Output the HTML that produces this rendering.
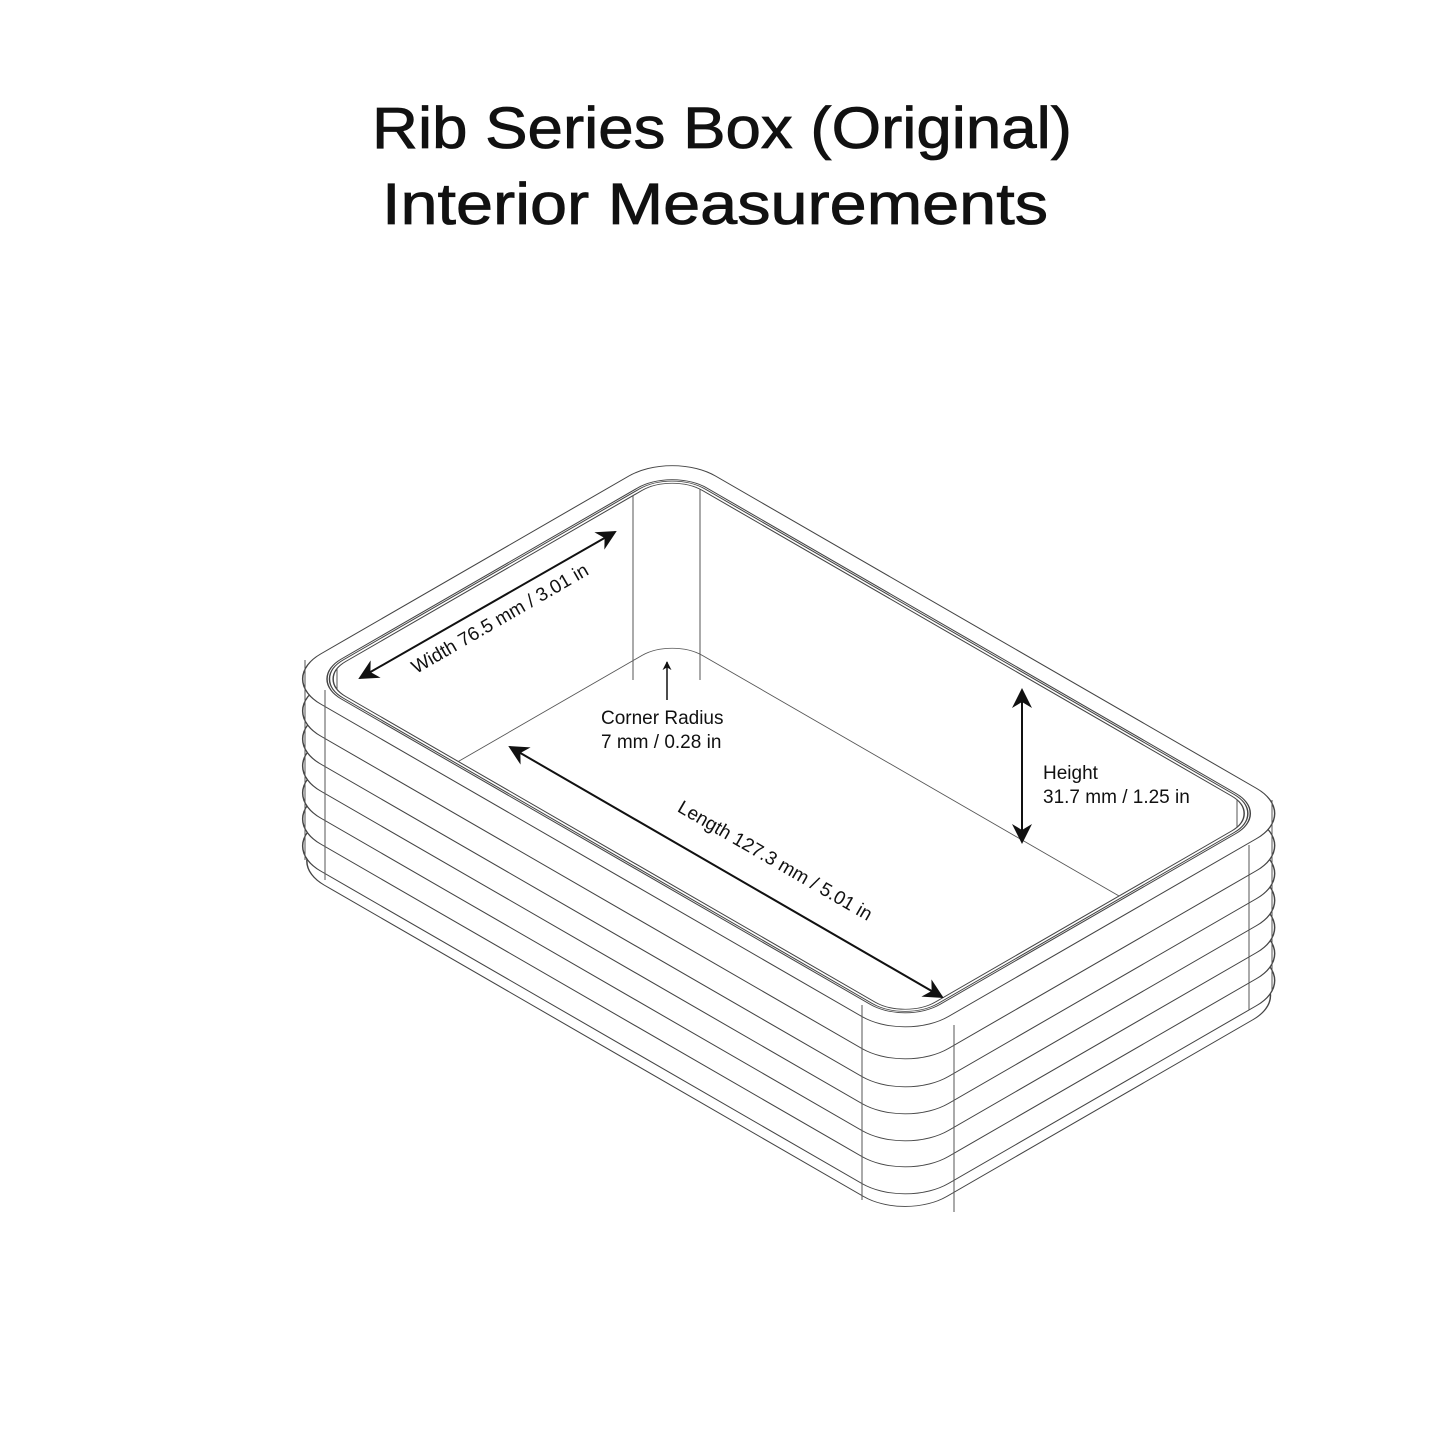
<!DOCTYPE html>
<html><head><meta charset="utf-8"><style>
html,body{margin:0;padding:0;background:#fff}
svg{display:block}
</style></head><body>
<svg width="1445" height="1445" viewBox="0 0 1445 1445" xmlns="http://www.w3.org/2000/svg">
<defs>
<marker id="ah" viewBox="0 0 10 10" refX="9" refY="5" markerWidth="9" markerHeight="9" orient="auto-start-reverse" markerUnits="userSpaceOnUse">
<path d="M0,0 L10,5 L0,10 L3,5 z" fill="#111"/></marker>
<marker id="ah2" viewBox="0 0 10 10" refX="9" refY="5" markerWidth="22" markerHeight="20" orient="auto-start-reverse" markerUnits="userSpaceOnUse">
<path d="M0,0 L10,5 L0,10 L3,5 z" fill="#111"/></marker>
<clipPath id="inner"><rect transform="matrix(0.866,0.5,0.866,-0.5,305,679)" x="6" y="6" width="681" height="412" rx="35"/></clipPath>
</defs>
<text x="722" y="148" text-anchor="middle" font-family="Liberation Sans, sans-serif" font-size="58" textLength="700" lengthAdjust="spacingAndGlyphs" fill="#111" stroke="#111" stroke-width="0.8">Rib Series Box (Original)</text>
<text x="715" y="224" text-anchor="middle" font-family="Liberation Sans, sans-serif" font-size="58" textLength="666" lengthAdjust="spacingAndGlyphs" fill="#111" stroke="#111" stroke-width="0.8">Interior Measurements</text>

<g fill="#fff" stroke="#444" stroke-width="1.2">
<rect transform="translate(0,182) matrix(0.866,0.5,0.866,-0.5,305,679)" x="-13" y="-13" width="719" height="450" rx="48"/>
<rect transform="translate(0,167) matrix(0.866,0.5,0.866,-0.5,305,679)" x="-16" y="-16" width="725" height="456" rx="50"/>
<rect transform="translate(0,140) matrix(0.866,0.5,0.866,-0.5,305,679)" x="-16" y="-16" width="725" height="456" rx="50"/>
<rect transform="translate(0,114) matrix(0.866,0.5,0.866,-0.5,305,679)" x="-16" y="-16" width="725" height="456" rx="50"/>
<rect transform="translate(0,87) matrix(0.866,0.5,0.866,-0.5,305,679)" x="-16" y="-16" width="725" height="456" rx="50"/>
<rect transform="translate(0,60) matrix(0.866,0.5,0.866,-0.5,305,679)" x="-16" y="-16" width="725" height="456" rx="50"/>
<rect transform="translate(0,32) matrix(0.866,0.5,0.866,-0.5,305,679)" x="-16" y="-16" width="725" height="456" rx="50"/>
<rect transform="matrix(0.866,0.5,0.866,-0.5,305,679)" x="-16" y="-16" width="725" height="456" rx="50"/>
<rect transform="matrix(0.866,0.5,0.866,-0.5,305,679)" x="1" y="1" width="691" height="422" rx="40"/>
<rect transform="matrix(0.866,0.5,0.866,-0.5,305,679)" x="3" y="3" width="687" height="418" rx="38"/>
<rect transform="matrix(0.866,0.5,0.866,-0.5,305,679)" x="6" y="6" width="681" height="412" rx="35"/>
</g>
<g stroke="#555" stroke-width="1" fill="none">
<line x1="305" y1="660" x2="305" y2="860"/>
<line x1="325" y1="690" x2="325" y2="880"/>
<line x1="862" y1="1005" x2="862" y2="1200"/>
<line x1="954" y1="1025" x2="954" y2="1212"/>
<line x1="1249" y1="845" x2="1249" y2="1010"/>
<line x1="1272" y1="800" x2="1272" y2="990"/>
</g>
<g clip-path="url(#inner)" stroke="#555" stroke-width="1" fill="none">
<rect transform="translate(0,165) matrix(0.866,0.5,0.866,-0.5,305,679)" x="6" y="6" width="681" height="412" rx="35"/>
<line x1="633" y1="460" x2="633" y2="680"/>
<line x1="700" y1="460" x2="700" y2="680"/>
<line x1="337" y1="650" x2="337" y2="720"/>
<line x1="1237" y1="790" x2="1237" y2="850"/>
</g>
<g stroke="#111" stroke-width="2" fill="none">
<line x1="360" y1="678" x2="615" y2="532" marker-start="url(#ah2)" marker-end="url(#ah2)"/>
<line x1="510" y1="747" x2="942" y2="997" marker-start="url(#ah2)" marker-end="url(#ah2)"/>
<line x1="1022" y1="690" x2="1022" y2="842" marker-start="url(#ah2)" marker-end="url(#ah2)"/>
<line x1="667" y1="700" x2="667" y2="662" stroke-width="1.5" marker-end="url(#ah)"/>
</g>
<g font-family="Liberation Sans, sans-serif" font-size="19" fill="#111">
<text transform="translate(503,624) rotate(-30)" text-anchor="middle">Width 76.5 mm / 3.01 in</text>
<text transform="translate(772,866) rotate(30)" text-anchor="middle">Length 127.3 mm / 5.01 in</text>
<text x="601" y="724">Corner Radius</text>
<text x="601" y="748">7 mm / 0.28 in</text>
<text x="1043" y="779">Height</text>
<text x="1043" y="803">31.7 mm / 1.25 in</text>
</g>
</svg>
</body></html>
